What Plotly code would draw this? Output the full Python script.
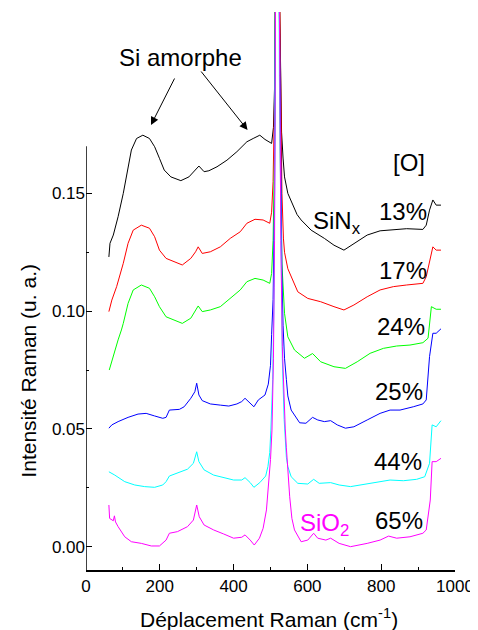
import plotly.graph_objects as go

# ---------------- data ----------------
black_13 = [(62,0.123),(65,0.1288),(74,0.1323),(87,0.1401),(101,0.150),(114,0.1606),(123,0.1684),
            (137,0.1733),(154,0.1747),(172,0.1733),(186,0.1698),(199,0.1649),(212,0.1599),(230,0.157),
            (257,0.1554),(279,0.157),(297,0.1599),(306,0.1616),(320,0.1592),(333,0.1596),(355,0.1613),
            (382,0.1641),(409,0.1677),(436,0.1719),(453,0.1733),(471,0.1747),(485,0.1729),(498,0.1719),
            (503,0.1712),(508,0.178),(511,0.195),(515,0.25),(519,0.45),(523,0.25),(527,0.20),(530,0.176),
            (534,0.165),(538,0.157),(547,0.150),(561,0.145),(572,0.141),(583,0.1387),(610,0.1344),
            (646,0.1309),(672,0.128),(699,0.1259),(726,0.1288),(762,0.1323),(797,0.1341),(833,0.1347),
            (869,0.135),(913,0.1347),(922,0.1365),(931,0.1429),(940,0.1472),(949,0.145),(962,0.145)]

red_17 = [(62,0.0998),(70,0.1047),(83,0.1104),(101,0.1203),(114,0.1288),(128,0.1344),(150,0.1365),
          (172,0.1352),(186,0.1316),(199,0.1259),(217,0.1224),(239,0.121),(261,0.1196),(284,0.1224),
          (297,0.1252),(304,0.1273),(315,0.1245),(337,0.1252),(364,0.1273),(391,0.1309),(418,0.1337),
          (436,0.1373),(458,0.139),(480,0.1387),(498,0.1373),(503,0.142),(507,0.155),(511,0.19),
          (515,0.26),(519,0.45),(523,0.26),(527,0.19),(531,0.15),(535,0.131),(538,0.125),(547,0.118),
          (556,0.1146),(574,0.1082),(601,0.1054),(636,0.104),(672,0.1019),(699,0.1005),(726,0.1026),
          (762,0.1061),(797,0.109),(833,0.1104),(869,0.1111),(913,0.1118),(922,0.1146),(936,0.1245),
          (940,0.1273),(949,0.1259),(962,0.1259)]

green_24 = [(63,0.075),(78,0.0835),(87,0.0878),(96,0.092),(101,0.0948),(114,0.1033),(128,0.109),
            (150,0.1111),(172,0.1097),(186,0.1061),(199,0.1019),(217,0.0976),(239,0.0962),(261,0.0948),
            (284,0.097),(297,0.1005),(304,0.1022),(315,0.0998),(337,0.1005),(364,0.1019),(391,0.1054),
            (418,0.109),(436,0.1125),(458,0.1139),(480,0.1132),(498,0.1118),(503,0.116),(507,0.13),
            (511,0.17),(515,0.25),(519,0.45),(523,0.25),(527,0.16),(531,0.12),(535,0.104),(538,0.0991),
            (547,0.0891),(565,0.0835),(592,0.0800),(614,0.082),(636,0.0785),(672,0.0764),(703,0.0757),
            (735,0.0785),(770,0.0821),(806,0.0842),(842,0.0852),(878,0.0856),(913,0.0866),(927,0.0885),
            (936,0.1019),(949,0.1008),(962,0.1008)]

blue_25 = [(62,0.0503),(70,0.0517),(87,0.0531),(114,0.0549),(141,0.0563),(163,0.0566),(186,0.0555),
           (208,0.0545),(217,0.0549),(226,0.058),(253,0.0583),(266,0.0594),(284,0.063),(295,0.0658),
           (300,0.0694),(306,0.0644),(315,0.062),(337,0.0606),(364,0.0601),(387,0.0597),(409,0.0606),
           (422,0.0616),(431,0.063),(445,0.0611),(455,0.0594),(467,0.0623),(485,0.0644),(494,0.069),
           (500,0.077),(503,0.090),(507,0.105),(511,0.15),(514,0.23),(519,0.45),(524,0.23),(528,0.15),
           (531,0.115),(534,0.094),(538,0.080),(543,0.071),(547,0.064),(556,0.058),(579,0.0526),
           (596,0.0524),(614,0.0549),(628,0.0538),(646,0.0531),(663,0.0535),(681,0.0517),(703,0.0503),
           (726,0.0509),(762,0.0538),(797,0.0566),(824,0.058),(851,0.058),(887,0.0594),(913,0.0606),
           (922,0.0623),(931,0.0807),(940,0.0906),(949,0.0906),(962,0.0925)]

cyan_44 = [(62,0.0318),(78,0.0304),(105,0.0276),(132,0.0262),(159,0.0255),(186,0.0252),(208,0.0262),
           (217,0.0276),(226,0.030),(248,0.0312),(275,0.0329),(291,0.0354),(300,0.0403),(306,0.0361),
           (320,0.0326),(346,0.0304),(373,0.0293),(400,0.0283),(422,0.0283),(431,0.0293),(445,0.0272),
           (455,0.0252),(471,0.0272),(487,0.0300),(493,0.034),(498,0.040),(501,0.0495),(506,0.071),
           (510,0.11),(514,0.20),(519,0.45),(524,0.20),(528,0.13),(532,0.08),(537,0.054),(543,0.038),
           (547,0.034),(556,0.0297),(574,0.0269),(601,0.0266),(617,0.0286),(632,0.0269),(663,0.0272),
           (686,0.0262),(717,0.0255),(762,0.0266),(797,0.0276),(824,0.0283),(860,0.028),(896,0.0286),
           (918,0.0297),(931,0.0354),(938,0.0517),(949,0.0509),(962,0.0535)]

magenta_65 = [(62,0.0177),(64,0.012),(74,0.011),(77,0.0131),(80,0.0105),(87,0.0085),(105,0.0042),
              (123,0.0021),(150,0.0014),(177,0.0003),(199,0.0003),(217,0.0028),(226,0.0057),(248,0.0064),
              (275,0.0085),(291,0.0113),(300,0.0177),(307,0.0127),(320,0.0092),(346,0.0071),(373,0.0054),
              (400,0.0036),(422,0.004),(431,0.005),(445,0.0028),(456,0.0007),(470,0.0036),(480,0.0078),
              (489,0.0156),(496,0.0283),(500,0.037),(504,0.0495),(508,0.08),(511,0.13),(514,0.23),
              (519,0.45),(524,0.23),(528,0.13),(532,0.085),(536,0.062),(540,0.05),(543,0.042),(547,0.031),
              (552,0.0212),(558,0.012),(565,0.0071),(583,0.0021),(601,0.0028),(617,0.0057),(628,0.0036),
              (650,0.0028),(663,0.0036),(686,0.0014),(717,0.0),(762,0.0014),(797,0.0028),(820,0.0045),
              (842,0.0036),(878,0.0042),(913,0.0057),(922,0.0071),(933,0.0198),(938,0.0361),(949,0.0361),
              (962,0.0375)]

series = [black_13, red_17, green_24, blue_25, cyan_44, magenta_65]
series_colors = ["#000000", "#FF0000", "#00FF00", "#0000FF", "#00FFFF", "#FF00FF"]
percent_labels = ["13%", "17%", "24%", "25%", "44%", "65%"]

x_ticks = [0, 200, 400, 600, 800, 1000]
x_minor = [100, 300, 500, 700, 900]
y_ticks = [0.0, 0.05, 0.10, 0.15]
y_tick_text = ["0.00", "0.05", "0.10", "0.15"]
y_minor = [0.025, 0.075, 0.125]

# ---------------- layout geometry ----------------
OFF = 8                      # default body margin of the page
W, H = 478 - OFF, 630 - OFF
ML, MR, MT, MB = 86 - OFF, 19, 12 - OFF, 60
PW, PH = W - ML - MR, H - MT - MB
FONT = "Liberation Sans, Arial, sans-serif"


def px_x(p):
    return (p - OFF - ML) / PW


def px_y(p):
    return (H - MB - (p - OFF)) / PH


fig = go.Figure()
for pts, col in zip(series, series_colors):
    fig.add_trace(go.Scatter(x=[p[0] for p in pts], y=[p[1] for p in pts], mode="lines",
                             line=dict(color=col, width=1), hoverinfo="skip"))

fig.update_layout(
    width=W, height=H,
    margin=dict(l=ML, r=MR, t=MT, b=MB, pad=0),
    paper_bgcolor="white", plot_bgcolor="white",
    showlegend=False,
    font=dict(family=FONT, color="black", size=17),
)
fig.update_xaxes(range=[0, 1000], tickmode="array", tickvals=x_ticks,
                 ticks="inside", ticklen=6, tickwidth=1.3, tickcolor="black",
                 showline=True, linewidth=1.5, linecolor="black", mirror=False,
                 showgrid=False, zeroline=False, tickfont=dict(size=17, family=FONT),
                 minor=dict(tickmode="array", tickvals=x_minor, ticks="inside", ticklen=3,
                            tickwidth=1.3, tickcolor="black", showgrid=False))
fig.update_yaxes(range=[-0.0099, 0.2270], tickmode="array", tickvals=y_ticks, ticktext=y_tick_text,
                 ticks="inside", ticklen=6, tickwidth=1.3, tickcolor="black",
                 showline=False, showgrid=False, zeroline=False, tickfont=dict(size=17, family=FONT),
                 minor=dict(tickmode="array", tickvals=y_minor, ticks="inside", ticklen=3,
                            tickwidth=1.3, tickcolor="black", showgrid=False))

# left axis line only up to 0.17
fig.add_shape(type="line", xref="x", yref="y", x0=0, x1=0, y0=-0.0099, y1=0.17,
              line=dict(color="black", width=1.5))

ann = []
# axis titles
ann.append(dict(text="Déplacement Raman (cm<sup>-1</sup>)", x=px_x(271), y=px_y(618),
                xref="paper", yref="paper", showarrow=False, font=dict(size=21, family=FONT),
                xanchor="center", yanchor="middle"))
ann.append(dict(text="Intensité Raman (u. a.)", x=px_x(27), y=px_y(371), textangle=-90,
                xref="paper", yref="paper", showarrow=False, font=dict(size=21, family=FONT),
                xanchor="center", yanchor="middle"))
# Si amorphe + arrows
ann.append(dict(text="Si amorphe", x=px_x(181.5), y=px_y(57), xref="paper", yref="paper",
                showarrow=False, font=dict(size=24, family=FONT), xanchor="center", yanchor="middle"))
for tip, tail in [((151.7, 125), (176, 77)), ((249.3, 130), (201.7, 70))]:
    ann.append(dict(text="", x=px_x(tip[0]), y=px_y(tip[1]), xref="paper", yref="paper",
                    ax=tail[0] - tip[0], ay=tail[1] - tip[1], showarrow=True,
                    arrowhead=2, arrowsize=1.6, arrowwidth=1, arrowcolor="black", standoff=0))
# [O]
ann.append(dict(text="[O]", x=px_x(413), y=px_y(162.5), xref="paper", yref="paper",
                showarrow=False, font=dict(size=24, family=FONT), xanchor="center", yanchor="middle"))
# percent labels
pct_pos = [(406, 211.7), (406, 270), (404, 326.7), (402, 391.7), (401.5, 461.7), (402.5, 520.5)]
for lab, (px, py) in zip(percent_labels, pct_pos):
    ann.append(dict(text=lab, x=px_x(px), y=px_y(py), xref="paper", yref="paper",
                    showarrow=False, font=dict(size=24, family=FONT), xanchor="center", yanchor="middle"))
# SiNx / SiO2
ann.append(dict(text="SiN<sub>x</sub>", x=px_x(313), y=px_y(223), xref="paper", yref="paper",
                showarrow=False, font=dict(size=24, family=FONT, color="black"),
                xanchor="left", yanchor="middle"))
ann.append(dict(text="SiO<sub>2</sub>", x=px_x(300.5), y=px_y(524), xref="paper", yref="paper",
                showarrow=False, font=dict(size=24, family=FONT, color="#FF00FF"),
                xanchor="left", yanchor="middle"))
fig.update_layout(annotations=ann)

fig.write_html("out.html")
